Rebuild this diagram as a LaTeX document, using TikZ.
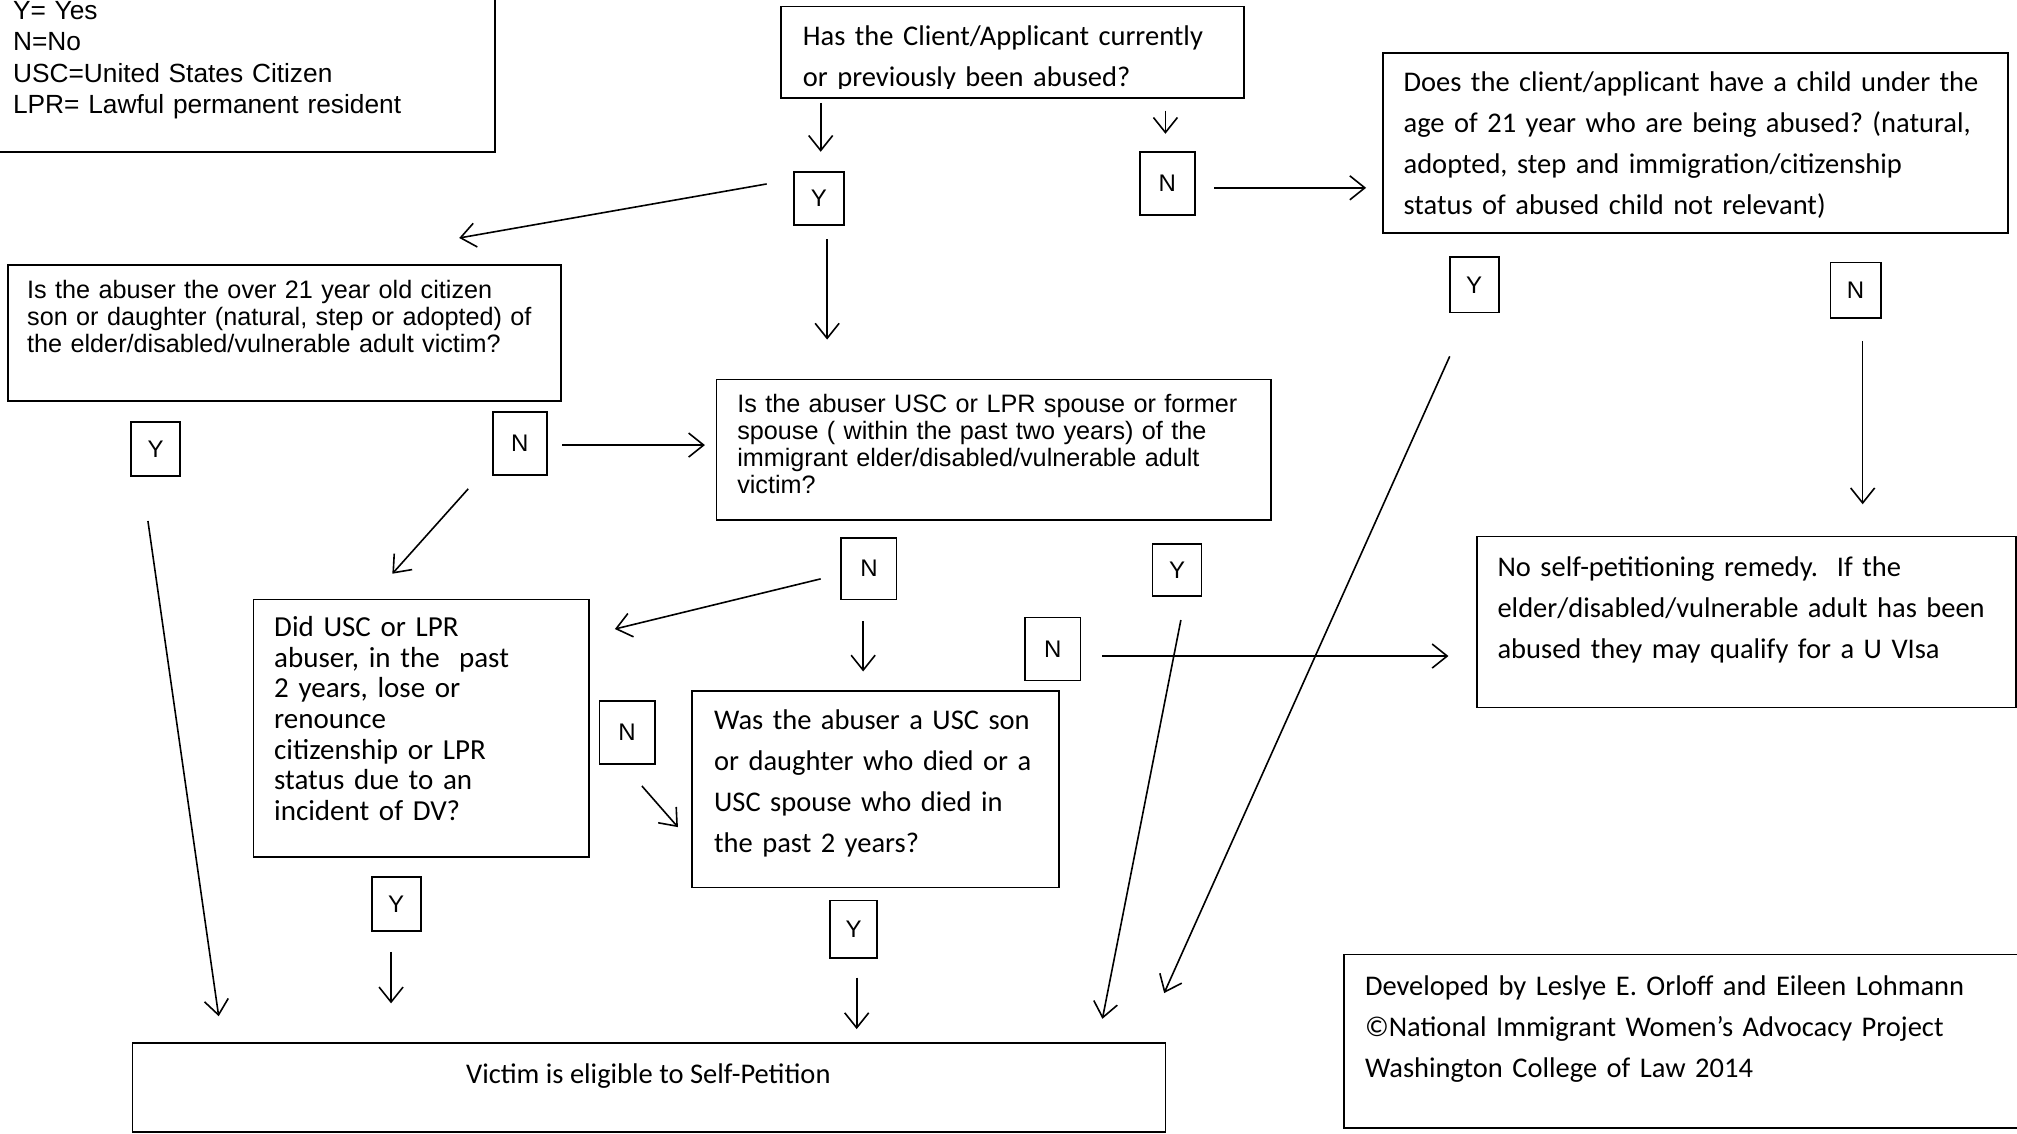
\documentclass[tikz,border=0pt]{standalone}
\usepackage{fontspec}
\setmainfont{Liberation Sans}
\newfontfamily\calibrif{Carlito}
\newfontfamily\arialf{Liberation Sans}
\usetikzlibrary{arrows.meta,fit}
\frenchspacing
\tikzset{
  box/.style={draw, line width=1.8pt, inner sep=0pt},
  yn/.style={draw, line width=1.8pt, inner sep=0pt, font=\arialf\fontsize{24}{28}\selectfont},
  arr/.style={line width=1.6pt, -{Straight Barb[length=15pt,width=24pt,line width=1.6pt]}},
  cal/.style={anchor=base west, inner sep=0pt, align=left, font=\calibrif\fontsize{28.5}{41}\selectfont},
  ari/.style={anchor=base west, inner sep=0pt, align=left, font=\arialf\fontsize{25.2}{27}\selectfont},
}
\begin{document}
\begin{tikzpicture}[x=1.2864pt,y=-1.2864pt]
\useasboundingbox[fill=white] (0,0) rectangle (1568,881);

% legend
\node[box, fit={(-10,-10) (385,118)}] (legend) {};
\node[ari, font=\arialf\fontsize{26.3}{31.4}\selectfont, text width=480pt] (legendt) at (10,15)
  {Y= Yes\\N=No\\USC=United States Citizen\\LPR= Lawful permanent resident};

% top question
\node[box, fit={(607,5) (967,76)}] (q1) {};
\begin{scope}
\clip (600,0) rectangle (970,68.5);
\node[cal, text width=440pt] (q1t) at (624,35)
  {Has the Client/Applicant currently\\or previously been abused?};
\end{scope}
\node[yn, minimum width=50.2pt, minimum height=52.7pt] (q1y) at (636.5,154.5) {Y};
\node[yn, minimum width=55.3pt, minimum height=63pt] (q1n) at (907.5,142.5) {N};

% child question
\node[box, fit={(1075,41) (1561,181)}] (q2) {};
\node[cal, text width=600pt] (q2t) at (1091,71)
  {Does the client/applicant have a child under the\\age of 21 year who are being abused? (natural,\\adopted, step and immigration/citizenship\\status of abused child not relevant)};
\node[yn, minimum width=48.9pt, minimum height=55.3pt] (q2y) at (1146,221.5) {Y};
\node[yn, minimum width=50.2pt, minimum height=55.3pt] (q2n) at (1442.5,225.5) {N};

% son/daughter question
\node[box, fit={(6,206) (436,312)}] (q3) {};
\node[ari, text width=530pt] (q3t) at (21,232)
  {Is the abuser the over 21 year old citizen\\son or daughter (natural, step or adopted) of\\the elder/disabled/vulnerable adult victim?};
\node[yn, minimum width=48.9pt, minimum height=54pt] (q3y) at (121,349) {Y};
\node[yn, minimum width=54pt, minimum height=63pt] (q3n) at (404,344.5) {N};

% spouse question
\node[box, fit={(557,295) (988,404)}] (q4) {};
\node[ari, text width=530pt] (q4t) at (573,321)
  {Is the abuser USC or LPR spouse or former\\spouse ( within the past two years) of the\\immigrant elder/disabled/vulnerable adult\\victim?};
\node[yn, minimum width=55.3pt, minimum height=61.7pt] (q4n) at (675.5,442) {N};
\node[yn, minimum width=48.9pt, minimum height=51.5pt] (q4y) at (915,443) {Y};

% lose/renounce question
\node[box, fit={(197,466) (458,666)}] (q5) {};
\node[cal, font=\calibrif\fontsize{29}{30.6}\selectfont, text width=312pt] (q5t) at (213,495)
  {Did USC or LPR\\abuser, in the\ \ past\\2 years, lose or\\renounce\\citizenship or LPR\\status due to an\\incident of DV?};
\node[yn, minimum width=55.3pt, minimum height=63pt] (q5n) at (487.5,569.5) {N};
\node[yn, minimum width=48.9pt, minimum height=54pt] (q5y) at (308,703) {Y};

% died question
\node[box, fit={(538,537) (823,690)}] (q6) {};
\node[cal, text width=342pt] (q6t) at (555,567)
  {Was the abuser a USC son\\or daughter who died or a\\USC spouse who died in\\the past 2 years?};
\node[yn, minimum width=55.3pt, minimum height=63pt] (q6n) at (818.5,504.5) {N};
\node[yn, minimum width=47.6pt, minimum height=57.9pt] (q6y) at (663.5,722.5) {Y};

% no remedy
\node[box, fit={(1148,417) (1567,550)}] (nr) {};
\node[cal, text width=515pt] (nrt) at (1164,448)
  {No self-petitioning remedy.\ \ If the\\elder/disabled/vulnerable adult has been\\abused they may qualify for a U VIsa};

% eligible
\node[box, fit={(103,811) (906,880)}] (el) {};
\node[anchor=base, inner sep=0pt, font=\calibrif\fontsize{28.5}{41}\selectfont] (elt) at (504,842)
  {Victim is eligible to Self-Petition};

% credits
\node[box, fit={(1045,742) (1600,877)}] (cr) {};
\node[cal, text width=650pt] (crt) at (1061,774)
  {Developed by Leslye E. Orloff and Eileen Lohmann\\©National Immigrant Women’s Advocacy Project\\Washington College of Law 2014};

% connector end points
\coordinate (a1s) at (638,80);   \coordinate (a1e) at (638,118);
\coordinate (a2s) at (906,86);   \coordinate (a2e) at (906,104);
\coordinate (a3s) at (944,146);  \coordinate (a3e) at (1062,146);
\coordinate (a4s) at (596,143);  \coordinate (a4e) at (357,185);
\coordinate (a5s) at (643,186);  \coordinate (a5e) at (643,264);
\coordinate (a6s) at (437,346);  \coordinate (a6e) at (548,346);
\coordinate (a7s) at (364,380);  \coordinate (a7e) at (305,446);
\coordinate (a8s) at (115,405);  \coordinate (a8e) at (170,790);
\coordinate (a9s) at (638,450);  \coordinate (a9e) at (478,489);
\coordinate (a10s) at (671,483); \coordinate (a10e) at (671,522);
\coordinate (a11s) at (499,611); \coordinate (a11e) at (527,643);
\coordinate (a12s) at (857,510); \coordinate (a12e) at (1126,510);
\coordinate (a13s) at (918,482); \coordinate (a13e) at (857,792);
\coordinate (a14s) at (1127,277);\coordinate (a14e) at (905,772);
\coordinate (a15s) at (1448,265);\coordinate (a15e) at (1448,392);
\coordinate (a16s) at (304,740); \coordinate (a16e) at (304,780);
\coordinate (a17s) at (666,760); \coordinate (a17e) at (666,800);

\foreach \i in {1,...,17}{\draw[arr] (a\i s) -- (a\i e);}
\end{tikzpicture}
\end{document}
